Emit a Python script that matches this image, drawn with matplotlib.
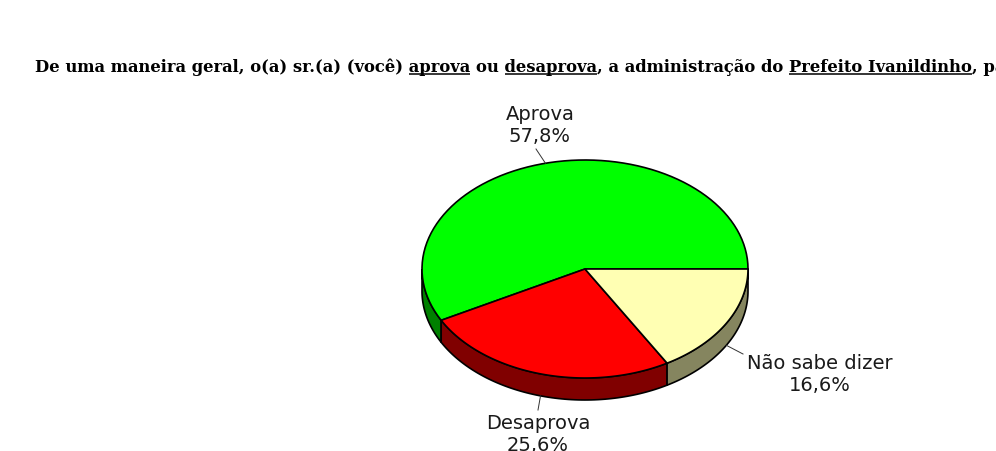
import numpy as np
import matplotlib
matplotlib.use("Agg")
import matplotlib.pyplot as plt
from matplotlib.patches import Polygon

# data
labels = ['Aprova', 'Desaprova', 'Não sabe dizer']
values = [57.8, 25.6, 16.6]
top_colors = ['#00FF00', '#FF0000', '#FFFFB3']
side_colors = ['#008000', '#800000', '#85855F']

title_parts = [
    ('De uma maneira geral, o(a) sr.(a) (você) ', False),
    ('aprova', True),
    (' ou ', False),
    ('desaprova', True),
    (', a administração do ', False),
    ('Prefeito Ivanildinho', True),
    (', para', False),
]

# layout in pixel coordinates
W, H = 996, 452
cx, cy = 585, 270
rx, ry = 163, 109
depth = 22
label_pos = [(540, 126), (538, 435), (820, 375)]
leader_end = [(536, 150), (538, 411), (743, 355)]

fig = plt.figure(figsize=(W / 100, H / 100), dpi=100)
ax = fig.add_axes([0, 0, 1, 1])
ax.set_xlim(0, W)
ax.set_ylim(H, 0)
ax.axis('off')


def rim(a1, a2, n=80, dy=0):
    t = np.radians(np.linspace(a1, a2, n))
    return np.column_stack([cx + rx * np.cos(t), cy - ry * np.sin(t) + dy])


angles = np.concatenate([[0], np.cumsum(values) / sum(values) * 360])

# side walls (front half only)
for i in range(len(values)):
    a1, a2 = max(angles[i], 180), min(angles[i + 1], 360)
    if a2 <= a1:
        continue
    top = rim(a1, a2)
    bot = rim(a2, a1, dy=depth)
    ax.add_patch(Polygon(np.vstack([top, bot]), closed=True, fc=side_colors[i],
                         ec='black', lw=1.2, zorder=1))

# top faces
for i in range(len(values)):
    pts = np.vstack([[cx, cy], rim(angles[i], angles[i + 1])])
    ax.add_patch(Polygon(pts, closed=True, fc=top_colors[i], ec='black',
                         lw=1.2, zorder=2))

# labels and leaders
for i in range(len(values)):
    mid = np.radians((angles[i] + angles[i + 1]) / 2)
    px = cx + rx * np.cos(mid)
    py = cy - ry * np.sin(mid)
    if np.sin(mid) < 0:
        py += depth
    ex, ey = leader_end[i]
    ax.plot([px, ex], [py, ey], color='#333333', lw=0.7, zorder=3)
    txt = '%s\n%s%%' % (labels[i], ('%.1f' % values[i]).replace('.', ','))
    ax.text(label_pos[i][0], label_pos[i][1], txt, ha='center', va='center',
            fontsize=14, family='DejaVu Sans', color='#1a1a1a',
            linespacing=1.2, zorder=4)

# title with underlined words
fig.canvas.draw()
renderer = fig.canvas.get_renderer()
tkw = dict(fontsize=11.75, fontweight='bold', family='DejaVu Serif')
x0, base = 35, 72.5
full = ''
for part, under in title_parts:
    full += part
ax.text(x0, base, full, ha='left', va='baseline', **tkw)
prefix = ''
for part, under in title_parts:
    prefix += part
    if under:
        t1 = ax.text(0, 0, prefix, **tkw)
        t2 = ax.text(0, 0, part, **tkw)
        w1 = t1.get_window_extent(renderer).width
        w2 = t2.get_window_extent(renderer).width
        t1.remove()
        t2.remove()
        ax.plot([x0 + w1 - w2, x0 + w1], [base + 2.5, base + 2.5],
                color='black', lw=1.1, solid_capstyle='butt')

fig.savefig('out.png', dpi=100, facecolor='white')
